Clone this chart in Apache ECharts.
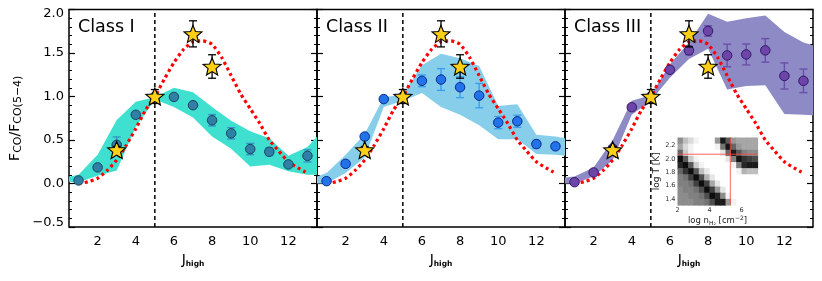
<!DOCTYPE html>
<html><head><meta charset="utf-8">
<script src="https://cdn.jsdelivr.net/npm/echarts@6/dist/echarts.min.js"></script>
<style>html,body{margin:0;padding:0;background:#fff}#c{width:822px;height:281px}</style>
</head><body><div id="c"></div>
<script>
// ---------------- data ----------------
const J = [1,2,3,4,5,6,7,8,9,10,11,12,13];
const classI    = [0.035,0.185,0.445,0.79,1.0,0.995,0.90,0.727,0.577,0.396,0.365,0.219,0.318];
const classIErr = [0.02,0.03,0.09,0.03,0.0,0.03,0.03,0.065,0.065,0.065,0.045,0.03,0.07];
const classII    = [0.027,0.226,0.54,0.97,1.0,1.18,1.195,1.107,1.01,0.70,0.715,0.453,0.427];
const classIIErr = [0.02,0.03,0.03,0.02,0.0,0.067,0.125,0.12,0.14,0.07,0.07,0.045,0.03];
const classIII    = [0.015,0.127,0.40,0.877,1.0,1.307,1.53,1.753,1.472,1.483,1.53,1.236,1.18];
const classIIIErr = [0.02,0.03,0.03,0.03,0.0,0.03,0.05,0.06,0.13,0.12,0.135,0.15,0.135];

const bandJ = [0.5,1,2,3,4,5,6,7,8,9,10,11,12,13,13.5];
const bandIHi   = [0.077,0.10,0.33,0.73,0.94,0.99,1.10,1.05,0.88,0.72,0.60,0.52,0.32,0.42,0.54];
const bandILo   = [0.02,0.015,0.09,0.15,0.65,0.965,0.88,0.76,0.54,0.40,0.195,0.215,0.14,0.10,0.10];
const bandIIHi  = [0.08,0.12,0.33,0.57,0.99,1.02,1.36,1.49,1.44,1.35,0.89,0.91,0.56,0.54,0.52];
const bandIILo  = [0.0,0.0,0.12,0.30,0.88,0.95,1.04,0.88,0.79,0.67,0.51,0.51,0.34,0.33,0.32];
const bandIIIHi = [0.07,0.08,0.185,0.50,0.95,1.015,1.37,1.62,1.95,1.86,1.90,1.93,1.74,1.62,1.59];
const bandIIILo = [0.0,0.0,0.08,0.27,0.79,0.95,1.215,1.43,1.55,1.08,1.12,1.13,0.80,0.79,0.785];

const modelJ = [1,1.5,2,2.5,3,3.5,4,4.5,5,5.5,6,6.5,7,7.5,8,8.5,9,9.5,10,10.5,11,11.5,12,12.5,12.9];
const modelV = [0.0,0.02,0.06,0.15,0.27,0.44,0.63,0.84,1.0,1.2,1.39,1.54,1.63,1.64,1.6,1.45,1.24,1.03,0.86,0.69,0.5,0.37,0.25,0.18,0.13];

const starJ   = [3,5,7,8];
const starV   = [0.385,1.0,1.72,1.345];
const starErr = [0.04,0.08,0.15,0.135];

const refJ = 5;
const panelNames = ['Class I','Class II','Class III'];
const xTickVals = [2,4,6,8,10,12];
const yMin = -0.5, yMax = 2.0, yStep = 0.5;

// inset (log n_H2 vs log T), grey levels 0=black 1=white, rows from top (high T)
const insetN = [2,7];
const insetT = [1.31,2.32];
const insetRows = [
 [0.55,0.75,0.85,0.95,1,1,1,0.6,0.1,0.35,0.6,0.65,0.65,0.65,0.65],
 [0.65,0.85,0.95,1,1,1,1,0.95,0.45,0.08,0.4,0.6,0.65,0.65,0.65],
 [0.4,0.8,0.95,1,1,1,1,1,0.9,0.4,0.1,0.35,0.5,0.55,0.55],
 [0.05,0.35,0.8,0.95,1,1,1,1,1,0.9,0.5,0.08,0.2,0.25,0.3],
 [0.15,0.05,0.35,0.8,0.95,1,1,1,1,1,0.95,0.5,0.15,0.1,0.1],
 [0.4,0.2,0.05,0.35,0.75,0.9,1,1,1,1,1,0.95,0.7,0.75,0.75],
 [0.5,0.45,0.25,0.05,0.3,0.7,0.9,1,1,1,1,1,1,1,1],
 [0.5,0.5,0.45,0.25,0.05,0.25,0.65,0.9,1,1,1,1,1,1,1],
 [0.55,0.5,0.5,0.45,0.3,0.05,0.25,0.6,0.9,1,1,1,1,1,1],
 [0.55,0.55,0.5,0.5,0.45,0.3,0.05,0.15,0.55,0.95,1,1,1,1,1],
 [0.55,0.55,0.55,0.5,0.5,0.45,0.3,0.1,0.1,0.6,0.95,1,1,1,1]
];
const insetBest = [5.3, 2.07];
const insetXTicks = [2,4,6];
const insetYTicks = [1.4,1.6,1.8,2.0,2.2];

// ---------------- styles ----------------
const FONT = 'DejaVu Sans';
const panelStyle = [
  {band:'#40e0d0', fill:'#2f7fa6', edge:'#17465e', err:'#3a92c4'},
  {band:'#87ceeb', fill:'#2272ea', edge:'#0b2a8a', err:'#3b9ff0'},
  {band:'#8d8ac6', fill:'#6d45a8', edge:'#35186a', err:'#6a4fa8'}
];
const grids = [
  {left:69, top:9.5, width:248, height:217.5},
  {left:317, top:9.5, width:248, height:217.5},
  {left:565, top:9.5, width:248, height:217.5}
];
const STAR = 'path://M50 0 L62.93 32.2 L97.55 34.55 L70.92 56.8 L79.39 90.45 L50 72 L20.61 90.45 L29.08 56.8 L2.45 34.55 L37.07 32.2 Z';

const panelData = [
  {v:classI, e:classIErr, hi:bandIHi, lo:bandILo},
  {v:classII, e:classIIErr, hi:bandIIHi, lo:bandIILo},
  {v:classIII, e:classIIIErr, hi:bandIIIHi, lo:bandIIILo}
];

function errRender(color, cap, lw) {
  return function(params, api) {
    const x = api.value(0), y = api.value(1), e = api.value(2);
    if (!e) return null;
    const t = api.coord([x, y + e]), b = api.coord([x, y - e]);
    const h = cap / 2, st = {stroke: color, lineWidth: lw};
    return {type:'group', children:[
      {type:'line', shape:{x1:t[0], y1:t[1], x2:b[0], y2:b[1]}, style:st},
      {type:'line', shape:{x1:t[0]-h, y1:t[1], x2:t[0]+h, y2:t[1]}, style:st},
      {type:'line', shape:{x1:b[0]-h, y1:b[1], x2:b[0]+h, y2:b[1]}, style:st}
    ]};
  };
}
function bandRender(lo, hi, color) {
  return function(params, api) {
    if (params.dataIndex !== 0) return null;
    const pts = [];
    for (let k = 0; k < bandJ.length; k++) pts.push(api.coord([bandJ[k], hi[k]]));
    for (let k = bandJ.length - 1; k >= 0; k--) pts.push(api.coord([bandJ[k], lo[k]]));
    return {type:'polygon', shape:{points:pts}, style:{fill:color}};
  };
}

const xAxis = [], yAxis = [], series = [], grid = [];
for (let i = 0; i < 3; i++) {
  grid.push(Object.assign({show:true, borderColor:'#000', borderWidth:1.5, backgroundColor:'rgba(0,0,0,0)'}, grids[i]));
  xAxis.push({
    type:'value', gridIndex:i, min:0.5, max:13.5,
    axisLine:{show:false}, axisTick:{show:false}, splitLine:{show:false},
    axisLabel:{customValues:xTickVals, fontFamily:FONT, fontSize:13, color:'#000', margin:8},
    name:'{j|J}{h|high}', nameLocation:'middle', nameGap:22,
    nameTextStyle:{rich:{
      j:{fontFamily:FONT, fontSize:14, color:'#000', lineHeight:16},
      h:{fontFamily:FONT, fontSize:7.5, fontWeight:'bold', color:'#000', lineHeight:7, verticalAlign:'bottom'}
    }}
  });
}
const yCommon = {
  type:'value', min:yMin, max:yMax, interval:yStep,
  axisLine:{show:false}, splitLine:{show:false},
  axisTick:{show:true, inside:true, length:6, lineStyle:{color:'#000', width:1.2}},
  minorTick:{show:true, splitNumber:5, length:3, lineStyle:{color:'#000', width:1}}
};
for (let i = 0; i < 3; i++) {
  const ax = Object.assign({}, yCommon, {gridIndex:i, position:'left'});
  if (i === 0) {
    ax.axisLabel = {show:true, fontFamily:FONT, fontSize:13, color:'#000', margin:5,
      formatter: v => {
        const s = v.toFixed(1).replace('-', '\u2212');
        if (v === yMax) return '{t|' + s + '}';
        if (v === yMin) return '{b|' + s + '}';
        return s;
      },
      rich:{t:{padding:[8,0,0,0]}, b:{padding:[0,0,8,0]}}
    };
    ax.name = '{f|F}{s|CO}{f|/F}{s|CO(5\u22124)}';
    ax.nameLocation = 'middle'; ax.nameRotate = 90; ax.nameGap = 45;
    ax.nameTextStyle = {rich:{
      f:{fontFamily:FONT, fontSize:14, color:'#000', lineHeight:18},
      s:{fontFamily:FONT, fontSize:11, color:'#000', lineHeight:9, verticalAlign:'bottom'}
    }};
  } else {
    ax.axisLabel = {show:false};
  }
  yAxis.push(ax);
}
for (let i = 0; i < 3; i++) {
  yAxis.push(Object.assign({}, yCommon, {gridIndex:i, position:'right', axisLabel:{show:false}}));
}

for (let i = 0; i < 3; i++) {
  const d = panelData[i], st = panelStyle[i];
  series.push({type:'custom', xAxisIndex:i, yAxisIndex:i, z:1, silent:true,
    renderItem: bandRender(d.lo, d.hi, st.band),
    data: bandJ.map((j,k) => [j, d.lo[k], d.hi[k]]), encode:{x:0, y:[1,2]}});
  series.push({type:'line', xAxisIndex:i, yAxisIndex:i, z:2, silent:true, smooth:0.2,
    showSymbol:false, symbol:'none',
    lineStyle:{color:'#ff0000', width:3.2, type:[3,3.2], cap:'butt'},
    data: modelJ.map((j,k) => [j, modelV[k]])});
  series.push({type:'line', xAxisIndex:i, yAxisIndex:i, z:3, silent:true, symbol:'none',
    lineStyle:{color:'#000', width:1.5, type:[4,3]},
    data:[[refJ, yMin], [refJ, yMax]]});
  series.push({type:'custom', xAxisIndex:i, yAxisIndex:i, z:4, silent:true,
    renderItem: errRender(st.err, 8, 1.4),
    data: J.map((j,k) => [j, d.v[k], d.e[k]]), encode:{x:0, y:1}});
  series.push({type:'scatter', xAxisIndex:i, yAxisIndex:i, z:5, silent:true,
    symbol:'circle', symbolSize:9.5,
    itemStyle:{color:st.fill, borderColor:st.edge, borderWidth:1, opacity:1},
    data: J.map((j,k) => [j, d.v[k]])});
  series.push({type:'custom', xAxisIndex:i, yAxisIndex:i, z:6, silent:true,
    renderItem: errRender('#000', 8, 1.3),
    data: starJ.map((j,k) => [j, starV[k], starErr[k]]), encode:{x:0, y:1}});
  series.push({type:'scatter', xAxisIndex:i, yAxisIndex:i, z:7, silent:true,
    symbol:STAR, symbolSize:[18,17],
    itemStyle:{color:'#fdd017', borderColor:'#000', borderWidth:1.1, opacity:1},
    data: starJ.map((j,k) => [j, starV[k]])});
}

// ---------------- inset ----------------
grid.push({left:677.5, top:137.5, width:80, height:67.5, show:false});
xAxis.push({type:'value', gridIndex:3, min:insetN[0], max:insetN[1],
  axisLine:{show:false}, axisTick:{show:false}, splitLine:{show:false},
  axisLabel:{customValues:insetXTicks, fontFamily:FONT, fontSize:6.5, color:'#333', margin:2},
  name:'{a|log n}{s|H\u2082}{a| [cm}{p|\u22122}{a|]}', nameLocation:'middle', nameGap:10,
  nameTextStyle:{rich:{
    a:{fontFamily:FONT, fontSize:8.5, color:'#222', lineHeight:11},
    s:{fontFamily:FONT, fontSize:6, color:'#222', lineHeight:6, verticalAlign:'bottom'},
    p:{fontFamily:FONT, fontSize:6, color:'#222', lineHeight:6, verticalAlign:'top'}
  }}
});
yAxis.push({type:'value', gridIndex:3, min:insetT[0], max:insetT[1],
  axisLine:{show:false}, axisTick:{show:false}, splitLine:{show:false},
  axisLabel:{customValues:insetYTicks, formatter:v => v.toFixed(1), fontFamily:FONT, fontSize:6.5, color:'#333', margin:2},
  name:'log T [K]', nameLocation:'middle', nameRotate:90, nameGap:13,
  nameTextStyle:{fontFamily:FONT, fontSize:9, color:'#222'}
});
const nCols = insetRows[0].length, nRows = insetRows.length;
const cellW = (insetN[1]-insetN[0]) / nCols, cellH = (insetT[1]-insetT[0]) / nRows;
const cells = [];
for (let r = 0; r < nRows; r++) for (let c = 0; c < nCols; c++) {
  const n0 = insetN[0] + c*cellW, t1 = insetT[1] - r*cellH;
  cells.push([n0 + cellW/2, t1 - cellH/2, insetRows[r][c]]);
}
series.push({type:'custom', xAxisIndex:3, yAxisIndex:6, z:8, silent:true,
  renderItem:function(params, api){
    const n = api.value(0), t = api.value(1), v = api.value(2);
    const p0 = api.coord([n - cellW/2, t + cellH/2]);
    const p1 = api.coord([n + cellW/2, t - cellH/2]);
    const g = Math.round(255*v);
    return {type:'rect', shape:{x:p0[0], y:p0[1], width:p1[0]-p0[0]+0.6, height:p1[1]-p0[1]+0.6},
      style:{fill:'rgb('+g+','+g+','+g+')'}};
  },
  data:cells, encode:{x:0, y:1}});
series.push({type:'line', xAxisIndex:3, yAxisIndex:6, z:9, silent:true, symbol:'none',
  lineStyle:{color:'rgba(255,70,70,0.85)', width:1},
  data:[[insetBest[0], insetT[0]], [insetBest[0], insetT[1]]]});
series.push({type:'line', xAxisIndex:3, yAxisIndex:6, z:9, silent:true, symbol:'none',
  lineStyle:{color:'rgba(255,70,70,0.85)', width:1},
  data:[[insetN[0], insetBest[1]], [insetN[1], insetBest[1]]]});

const graphic = panelNames.map((t, i) => ({
  type:'text', x:grids[i].left + 9, y:27, z:20,
  style:{text:t, fontFamily:FONT, fontSize:17.5, fill:'#000', verticalAlign:'middle'}
}));

const chart = echarts.init(document.getElementById('c'), null, {renderer:'canvas'});
chart.setOption({animation:false, grid, xAxis, yAxis, series, graphic});
</script></body></html>
